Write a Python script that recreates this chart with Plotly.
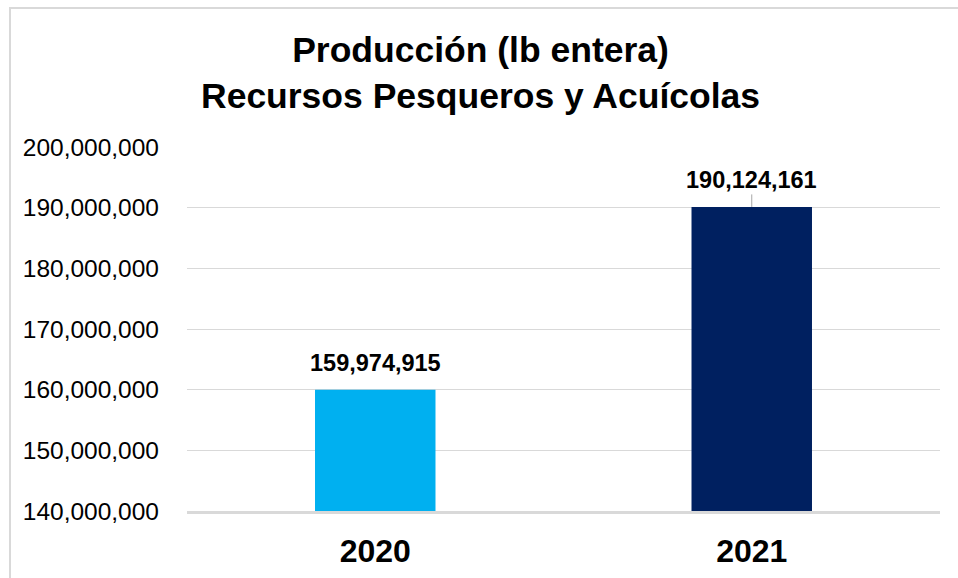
import plotly.graph_objects as go

# data
anios = ["2020", "2021"]
produccion = [159974915, 190124161]
colores = ["#00B0F0", "#002060"]
ticks_y = [140000000, 150000000, 160000000, 170000000, 180000000, 190000000, 200000000]

W, H = 958, 578
l, r, t, b = 187, 18, 147, 67
pw = W - l - r
ph = H - t - b

fig = go.Figure()
fig.add_trace(go.Bar(x=anios, y=produccion, marker=dict(color=colores, line=dict(width=0)),
                     width=0.32, hoverinfo="x+y"))

# etiquetas de datos (x por indice de categoria)
for i, v in enumerate(produccion):
    if i == 1:
        fig.add_annotation(x=i, y=v, text="<b>{:,}</b>".format(v), showarrow=True,
                           ax=0, ay=-27, arrowhead=0, arrowwidth=1, arrowcolor="#a6a6a6",
                           standoff=0, font=dict(size=23.5, color="#000000"))
    else:
        fig.add_annotation(x=i, y=v, text="<b>{:,}</b>".format(v), showarrow=False,
                           yshift=27, font=dict(size=23.5, color="#000000"))

# titulo
fig.add_annotation(xref="paper", yref="paper", x=(480 - l) / pw, y=(H - 73 - b) / ph,
                   xanchor="center", yanchor="middle", showarrow=False,
                   text="<b>Producción (lb entera)<br>Recursos Pesqueros y Acuícolas</b>",
                   font=dict(size=35.5, color="#000000"))

# borde del area del grafico
fig.add_shape(type="rect", xref="paper", yref="paper",
              x0=(10 - l) / pw, x1=(W + 20 - l) / pw,
              y0=-(b + 20) / ph, y1=(H - 8 - b) / ph,
              line=dict(color="#d9d9d9", width=2), fillcolor="rgba(0,0,0,0)", layer="below")

fig.update_layout(
    width=W, height=H,
    margin=dict(l=l, r=r, t=t, b=b, autoexpand=False),
    paper_bgcolor="white", plot_bgcolor="white",
    font=dict(family="Liberation Sans, Arial, sans-serif", color="#000000"),
    showlegend=False,
    xaxis=dict(type="category", categoryorder="array", categoryarray=anios,
               range=[-0.5, 1.5], tickvals=anios,
               ticktext=["<b>" + a + "</b>" for a in anios],
               tickfont=dict(size=32, color="#000000"),
               showline=True, linecolor="#d9d9d9", linewidth=3, ticks="",
               ticklabelstandoff=10, showgrid=False),
    yaxis=dict(range=[140000000, 200000000], tickvals=ticks_y, tickformat=",d",
               tickfont=dict(size=24.5, color="#000000"),
               showgrid=True, gridcolor="#d9d9d9", gridwidth=1,
               zeroline=False, ticks="", ticklabelstandoff=27),
)

fig.write_html("out.html", config={"displayModeBar": False},
               post_script="document.body.style.margin='0';")
